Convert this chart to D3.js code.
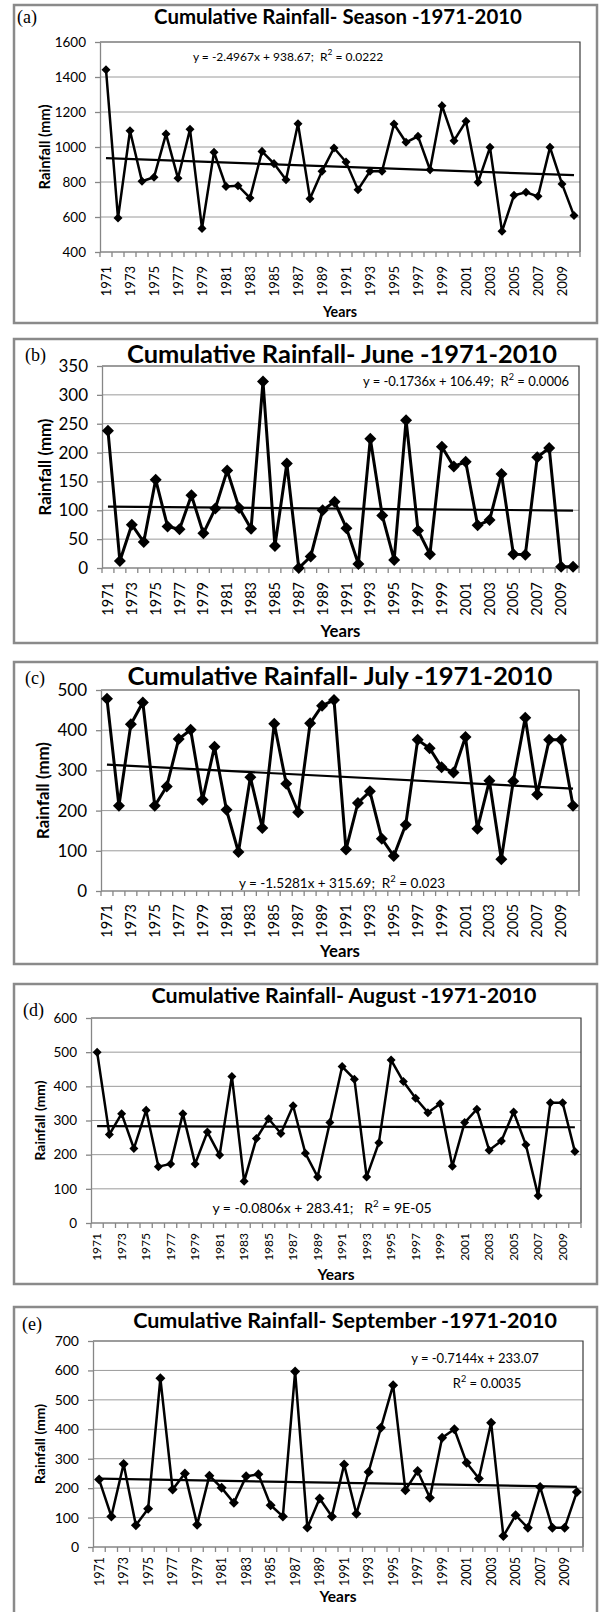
<!DOCTYPE html>
<html>
<head>
<meta charset="utf-8">
<script src="https://cdn.jsdelivr.net/npm/d3@7"></script>
<style>
  body { margin: 0; background: #fff; }
  svg { display: block; }
  text { font-family: Lato, "Open Sans", sans-serif; white-space: pre; }
</style>
</head>
<body>
<svg id="chart"></svg>
<script>
// years on the x axis (every second one gets a label)
const years = [1971, 1972, 1973, 1974, 1975, 1976, 1977, 1978, 1979, 1980,
  1981, 1982, 1983, 1984, 1985, 1986, 1987, 1988, 1989, 1990,
  1991, 1992, 1993, 1994, 1995, 1996, 1997, 1998, 1999, 2000,
  2001, 2002, 2003, 2004, 2005, 2006, 2007, 2008, 2009, 2010];
const labelYears = [1971, 1973, 1975, 1977, 1979, 1981, 1983, 1985, 1987, 1989,
  1991, 1993, 1995, 1997, 1999, 2001, 2003, 2005, 2007, 2009];

// cumulative rainfall (mm)
const seasonRain = [1442, 594, 1093, 804, 827, 1074, 821, 1101, 535, 970, 775, 779, 709, 975, 905, 813, 1133, 705, 861, 994,
  914, 756, 861, 861, 1131, 1027, 1061, 870, 1236, 1036, 1147, 798, 998, 518, 724, 741, 718, 998, 789, 608];
const juneRain = [238, 12, 75, 45, 153, 72, 67, 126, 60, 103, 169, 104, 68, 323, 38, 181, 0, 20, 100, 115,
  69, 7, 224, 91, 14, 256, 65, 24, 210, 176, 184, 74, 83, 163, 24, 23, 192, 208, 2, 2];
const julyRain = [478, 212, 415, 469, 212, 260, 378, 401, 227, 359, 202, 97, 283, 157, 416, 267, 196, 417, 461, 475,
  103, 219, 248, 130, 87, 165, 376, 355, 308, 295, 383, 155, 274, 79, 273, 431, 240, 376, 376, 212];
const augustRain = [500, 259, 320, 218, 330, 165, 173, 320, 173, 266, 199, 429, 122, 247, 305, 262, 343, 204, 135, 294,
  458, 421, 135, 235, 477, 414, 365, 323, 349, 166, 294, 333, 213, 240, 325, 229, 80, 352, 352, 209];
const septemberRain = [229, 104, 282, 74, 130, 573, 195, 250, 76, 242, 201, 150, 240, 247, 142, 104, 596, 66, 165, 104,
  280, 113, 255, 405, 550, 193, 258, 167, 371, 400, 286, 233, 422, 37, 108, 65, 204, 65, 65, 187];

// y tick labels
const seasonTicks = [400, 600, 800, 1000, 1200, 1400, 1600];
const juneTicks = [0, 50, 100, 150, 200, 250, 300, 350];
const julyTicks = [0, 100, 200, 300, 400, 500];
const augustTicks = [0, 100, 200, 300, 400, 500, 600];
const septemberTicks = [0, 100, 200, 300, 400, 500, 600, 700];

// linear trend lines as printed on each chart (x = 1..40)
const seasonTrend = [-2.4967, 938.67];
const juneTrend = [-0.1736, 106.49];
const julyTrend = [-1.5281, 315.69];
const augustTrend = [-0.0806, 283.41];
const septemberTrend = [-0.7144, 233.07];

const titles = ["Cumulative Rainfall- Season -1971-2010", "Cumulative Rainfall- June -1971-2010",
  "Cumulative Rainfall- July -1971-2010", "Cumulative Rainfall- August -1971-2010",
  "Cumulative Rainfall- September -1971-2010"];

// equation label pieces: [before, superscript, after, x shift]
const seasonEq = [["y = -2.4967x + 938.67;  R", "2", " = 0.0222", 0]];
const juneEq = [["y = -0.1736x + 106.49;  R", "2", " = 0.0006", 0]];
const julyEq = [["y = -1.5281x + 315.69;  R", "2", " = 0.023", 0]];
const augustEq = [["y = -0.0806x + 283.41;   R", "2", " = 9E-05", 0]];
const septemberEq = [["y = -0.7144x + 233.07", "", "", 0], ["R", "2", " = 0.0035", 12]];

const W = 599, H = 1612;
const svg = d3.select("#chart").attr("width", W).attr("height", H);
svg.append("rect").attr("width", W).attr("height", H).attr("fill", "#fff");

const panels = [
  { tag: "(a)", title: titles[0], values: seasonRain, ticks: seasonTicks, trend: seasonTrend, eq: seasonEq,
    frame: [14, 5, 597, 323], plot: [100, 42, 580, 252], tagPos: [17, 23], titlePos: [338, 24, 368],
    tickFs: 13.5, yearFs: 13, yearOff: 14, yTitle: [45, 85], yearsY: 317, yearsW: 34, marker: 9, lw: 2.5,
    eqPos: [288, 61, "middle", 12] },
  { tag: "(b)", title: titles[1], values: juneRain, ticks: juneTicks, trend: juneTrend, eq: juneEq,
    frame: [14, 339, 597, 643], plot: [102, 366, 579, 568], tagPos: [25, 361], titlePos: [342, 363, 430],
    tickFs: 17, yearFs: 14.5, yearOff: 14, yTitle: [45, 97], yearsY: 637, yearsW: 40, marker: 12, lw: 3,
    eqPos: [569, 386, "end", 13] },
  { tag: "(c)", title: titles[2], values: julyRain, ticks: julyTicks, trend: julyTrend, eq: julyEq,
    frame: [14, 662, 597, 964], plot: [101, 690, 579, 891], tagPos: [25, 684], titlePos: [340, 685, 425],
    tickFs: 17, yearFs: 14.5, yearOff: 13, yTitle: [43, 97], yearsY: 957, yearsW: 40, marker: 12, lw: 3,
    eqPos: [342, 888, "middle", 13.5] },
  { tag: "(d)", title: titles[3], values: augustRain, ticks: augustTicks, trend: augustTrend, eq: augustEq,
    frame: [14, 984, 597, 1284], plot: [91, 1018, 581, 1223], tagPos: [23, 1016], titlePos: [344, 1003, 385],
    tickFs: 13.5, yearFs: 12, yearOff: 10, yTitle: [40, 80], yearsY: 1280, yearsW: 37, marker: 9, lw: 2.5,
    eqPos: [322, 1213, "middle", 14] },
  { tag: "(e)", title: titles[4], values: septemberRain, ticks: septemberTicks, trend: septemberTrend, eq: septemberEq,
    frame: [14, 1307, 597, 1620], plot: [93, 1341, 583, 1547], tagPos: [22, 1330], titlePos: [345, 1328, 424],
    tickFs: 14, yearFs: 12.5, yearOff: 10, yTitle: [40, 80], yearsY: 1602, yearsW: 37, marker: 10, lw: 2.5,
    eqPos: [475, 1363, "middle", 13] }
];

// scale a text's font size so it is w pixels wide
function fitWidth(sel, w) {
  const len = sel.node().getComputedTextLength();
  const fs = parseFloat(sel.attr("font-size"));
  sel.attr("font-size", fs * w / len);
}

panels.forEach(function (p) {
  const g = svg.append("g");
  const [fx0, fy0, fx1, fy1] = p.frame;
  const [l, t, r, b] = p.plot;

  g.append("rect")
    .attr("x", fx0).attr("y", fy0)
    .attr("width", fx1 - fx0).attr("height", fy1 - fy0)
    .attr("fill", "#fff").attr("stroke", "#8a8a8a").attr("stroke-width", 2.5);

  const x = d3.scaleBand().domain(years).range([l, r]);
  const cx = d => x(d) + x.bandwidth() / 2;
  const y = d3.scaleLinear().domain(d3.extent(p.ticks)).range([b, t]);

  // gridlines
  g.selectAll(".grid").data(p.ticks.slice(1, -1)).enter().append("line")
    .attr("x1", l).attr("x2", r)
    .attr("y1", d => y(d)).attr("y2", d => y(d))
    .attr("stroke", "#9a9a9a").attr("stroke-width", 1);

  // plot border top + right
  g.append("path")
    .attr("d", `M${l},${t}H${r}V${b}`)
    .attr("fill", "none").attr("stroke", "#3a3a3a").attr("stroke-width", 1.2);

  // y axis
  const yAxis = g.append("g")
    .attr("transform", `translate(${l},0)`)
    .call(d3.axisLeft(y).tickValues(p.ticks).tickFormat(d3.format("d"))
      .tickSize(5).tickPadding(9).tickSizeOuter(0));
  yAxis.select(".domain").attr("stroke", "#868686").attr("stroke-width", 1.3);
  yAxis.selectAll(".tick line").attr("stroke", "#868686").attr("stroke-width", 1.3);
  yAxis.selectAll(".tick text").attr("font-size", p.tickFs).attr("fill", "#000")
    .style("font-family", "Lato, 'Open Sans', sans-serif");

  // x axis: ticks at year boundaries
  const xAxis = g.append("g").attr("transform", `translate(0,${b})`);
  xAxis.append("line").attr("x1", l).attr("x2", r).attr("stroke", "#868686").attr("stroke-width", 1.3);
  xAxis.selectAll(".xt").data(years.concat(["end"])).enter().append("line")
    .attr("x1", d => d === "end" ? r : x(d)).attr("x2", d => d === "end" ? r : x(d))
    .attr("y1", 0).attr("y2", 5)
    .attr("stroke", "#868686").attr("stroke-width", 1.3);
  xAxis.selectAll(".xl").data(labelYears).enter().append("text")
    .attr("transform", d => `translate(${cx(d)},${p.yearOff}) rotate(-90)`)
    .attr("text-anchor", "end").attr("dy", "0.35em")
    .attr("font-size", p.yearFs).text(d => d);

  // trend line
  const [slope, icpt] = p.trend;
  const n = years.length;
  const trendPts = [[years[0], slope * 1 + icpt], [years[n - 1], slope * n + icpt]];
  g.append("path")
    .attr("d", d3.line().x(d => cx(d[0])).y(d => y(d[1]))(trendPts))
    .attr("fill", "none").attr("stroke", "#000").attr("stroke-width", 2.2);

  // data line
  g.append("path")
    .datum(p.values)
    .attr("d", d3.line().x((d, i) => cx(years[i])).y(d => y(d)))
    .attr("fill", "none").attr("stroke", "#000").attr("stroke-width", p.lw)
    .attr("stroke-linejoin", "miter");

  // diamond markers
  const diamond = d3.symbol().type(d3.symbolSquare).size(p.marker * p.marker / 2);
  g.selectAll(".pt").data(p.values).enter().append("path")
    .attr("d", diamond)
    .attr("transform", (d, i) => `translate(${cx(years[i])},${y(d)}) rotate(45)`)
    .attr("fill", "#000");

  // equation
  const [ex, ey, anchor, efs] = p.eqPos;
  p.eq.forEach(function (parts, k) {
    const txt = g.append("text")
      .attr("x", ex + parts[3]).attr("y", ey + k * 25)
      .attr("text-anchor", anchor).attr("font-size", efs);
    txt.append("tspan").text(parts[0]);
    if (parts[1]) {
      txt.append("tspan").attr("dy", -6).attr("font-size", efs * 0.7).text(parts[1]);
      txt.append("tspan").attr("dy", 6).text(parts[2]);
    }
  });

  // panel tag
  g.append("text")
    .attr("x", p.tagPos[0]).attr("y", p.tagPos[1])
    .attr("font-size", 18)
    .style("font-family", "'Liberation Serif', 'Times New Roman', serif")
    .text(p.tag);

  // title
  const title = g.append("text")
    .attr("x", p.titlePos[0]).attr("y", p.titlePos[1])
    .attr("text-anchor", "middle").attr("font-weight", "bold").attr("font-size", 18)
    .text(p.title);
  fitWidth(title, p.titlePos[2]);

  // y title
  const yt = g.append("text")
    .attr("transform", `translate(${p.yTitle[0]},${(t + b) / 2}) rotate(-90)`)
    .attr("text-anchor", "middle").attr("dy", "0.35em")
    .attr("font-weight", "bold").attr("font-size", 14)
    .text("Rainfall (mm)");
  fitWidth(yt, p.yTitle[1]);

  // x title
  const xt = g.append("text")
    .attr("x", (l + r) / 2).attr("y", p.yearsY)
    .attr("text-anchor", "middle").attr("font-weight", "bold").attr("font-size", 13)
    .text("Years");
  fitWidth(xt, p.yearsW);
});
</script>
</body>
</html>
